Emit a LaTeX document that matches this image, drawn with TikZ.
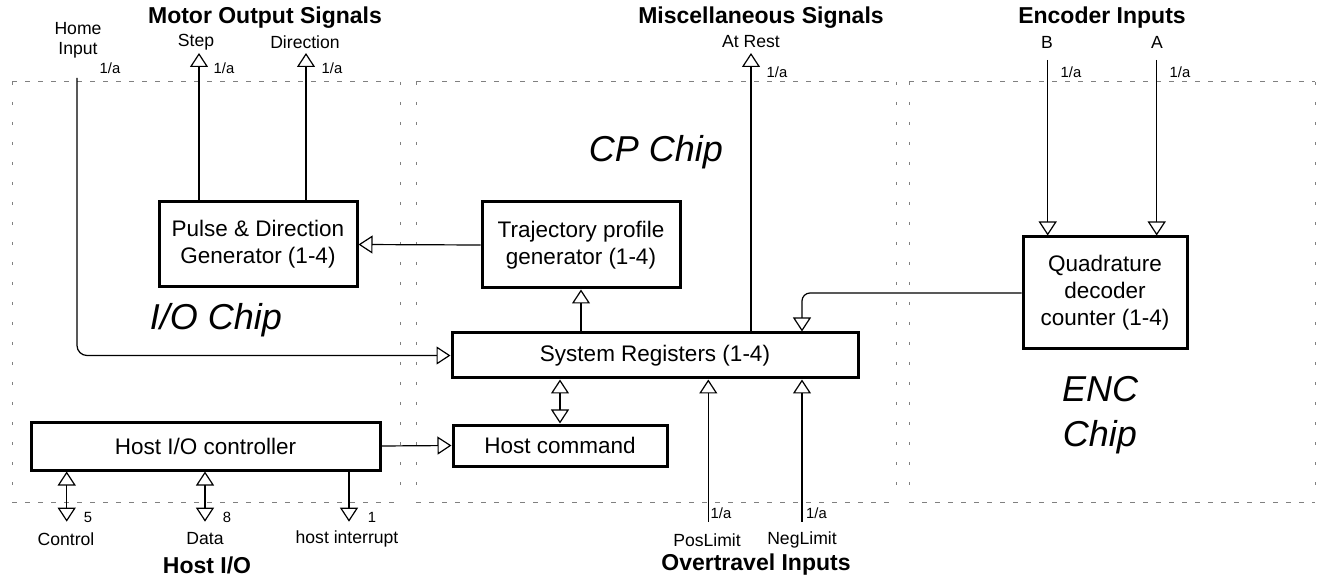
\documentclass[tikz,border=0pt]{standalone}
\usepackage{fontspec}
\setmainfont{Liberation Sans}
\usetikzlibrary{arrows.meta}
\begin{document}
\begin{tikzpicture}[
        x=0.5pt, y=-0.5pt,
        block/.style={draw, line width=1.5pt, inner sep=1pt, align=center, font=\fontsize{11.25}{13.5}\selectfont},
        sig/.style={line width=0.6pt, -{Triangle[open, length=7pt, width=9pt]}},
        bisig/.style={line width=0.6pt, {Triangle[open, length=7pt, width=9pt]}-{Triangle[open, length=7pt, width=9pt]}},
        plain/.style={line width=0.6pt},
        hdash/.style={gray, line width=0.5pt, dash pattern=on 2.5pt off 4pt},
        vdash/.style={gray, line width=0.5pt, dash pattern=on 1.5pt off 8.5pt},
        lbl/.style={inner sep=0pt, align=center, font=\fontsize{8.8}{10}\selectfont},
        rate/.style={inner sep=0pt, font=\fontsize{7.4}{9}\selectfont},
        head/.style={inner sep=0pt, font=\fontsize{11.5}{13}\selectfont\bfseries},
        chip/.style={inner sep=0pt, align=center, font=\fontsize{18}{22.5}\selectfont\itshape},
        ]
    \useasboundingbox (0,0) rectangle (1318,577);

    % chip regions
    \draw[hdash] (12,82) -- (400,82) (12,502) -- (400,502);
    \draw[vdash] (12,82) -- (12,502) (400,82) -- (400,502);
    \draw[hdash] (416,82) -- (896,82) (416,502) -- (896,502);
    \draw[vdash] (416,82) -- (416,502) (896,82) -- (896,502);
    \draw[hdash] (909,82) -- (1315,82) (909,502) -- (1315,502);
    \draw[vdash] (909,82) -- (909,502) (1315,82) -- (1315,502);

    \node (iochip) [chip] at (216,320) {I/O Chip};
    \node (cpchip) [chip] at (656,152) {CP Chip};
    \node (encchip) [chip] at (1100,415) {ENC\\Chip};

    % blocks
    \node (pulse) [block, minimum width=99pt, minimum height=42.5pt] at (258,244.5) {Pulse \& Direction\\Generator (1-4)};
    \node (traj) [block, minimum width=99pt, minimum height=43pt] at (581,245) {Trajectory profile\\generator (1-4)};
    \node (sysreg) [block, minimum width=203pt, minimum height=22.5pt] at (655,355.5) {System Registers (1-4)};
    \node (hostcmd) [block, minimum width=107pt, minimum height=20.5pt] at (560,445.5) {Host command};
    \node (hostio) [block, minimum width=174.5pt, minimum height=24pt] at (205.5,446) {Host I/O controller};
    \node (quad) [block, minimum width=82pt, minimum height=56pt] at (1105,293) {Quadrature\\decoder\\counter (1-4)};

    % signal ends
    \coordinate (home) at (77,78);
    \coordinate (step) at (199,53);
    \coordinate (dir) at (306,53);
    \coordinate (atrest) at (751,53);
    \coordinate (encB) at (1047.7,60);
    \coordinate (encA) at (1156.7,60);
    \coordinate (pos) at (708.3,521.7);
    \coordinate (neg) at (802,521.7);
    \coordinate (ctrl) at (66.7,521.7);
    \coordinate (data) at (205,521.7);
    \coordinate (irq) at (349,521.7);

    % connectors
    \draw[sig, rounded corners=5pt] (home) |- (sysreg.west);
    \draw[sig] (pulse.north -| step) -- (step);
    \draw[sig] (pulse.north -| dir) -- (dir);
    \draw[sig] (sysreg.north -| atrest) -- (atrest);
    \draw[sig] (encB) -- (quad.north -| encB);
    \draw[sig] (encA) -- (quad.north -| encA);
    \draw[sig] (traj.west) -- (pulse.east);
    \draw[sig] (traj.south |- sysreg.north) -- (traj.south);
    \draw[sig, rounded corners=4pt] (quad.west) -| (sysreg.north -| neg);
    \draw[sig] (hostio.east) -- (hostcmd.west);
    \draw[bisig] (sysreg.south -| hostcmd.north) -- (hostcmd.north);
    \draw[sig] (pos) -- (sysreg.south -| pos);
    \draw[sig] (neg) -- (sysreg.south -| neg);
    \draw[bisig] (hostio.south -| ctrl) -- (ctrl);
    \draw[bisig] (hostio.south -| data) -- (data);
    \draw[sig] (hostio.south -| irq) -- (irq);

    % labels
    \node (motorhead) [head] at (265,18) {Motor Output Signals};
    \node (mischead) [head] at (761,18) {Miscellaneous Signals};
    \node (enchead) [head] at (1102,18) {Encoder Inputs};
    \node (hosthead) [head] at (207,565) {Host I/O};
    \node (overhead) [head] at (756,565) {Overtravel Inputs};

    \node (homelbl) [lbl] at (78,40) {Home\\Input};
    \node (steplbl) [lbl] at (196,42) {Step};
    \node (dirlbl) [lbl] at (305,42) {Direction};
    \node (restlbl) [lbl] at (751,42) {At Rest};
    \node (blbl) [lbl] at (1047,42) {B};
    \node (albl) [lbl] at (1157,42) {A};
    \node (poslbl) [lbl] at (707,540) {PosLimit};
    \node (neglbl) [lbl] at (802,540) {NegLimit};
    \node (ctrllbl) [lbl] at (66,539) {Control};
    \node (datalbl) [lbl] at (205,539) {Data};
    \node (irqlbl) [lbl] at (347,539) {host interrupt};

    \node (homerate) [rate] at (110,68) {1/a};
    \node (steprate) [rate] at (224,68) {1/a};
    \node (dirrate) [rate] at (332,68) {1/a};
    \node (restrate) [rate] at (777,72) {1/a};
    \node (brate) [rate] at (1071,72) {1/a};
    \node (arate) [rate] at (1180,72) {1/a};
    \node (posrate) [rate] at (721,513) {1/a};
    \node (negrate) [rate] at (816.5,513) {1/a};
    \node (ctrlrate) [rate] at (88,517) {5};
    \node (datarate) [rate] at (227,517) {8};
    \node (irqrate) [rate] at (372,517) {1};
\end{tikzpicture}
\end{document}
